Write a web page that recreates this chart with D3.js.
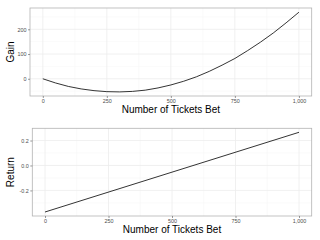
<!DOCTYPE html>
<html>
<head>
<meta charset="utf-8">
<script src="https://cdn.jsdelivr.net/npm/d3@7"></script>
<style>
    body { margin: 0; background: #fff; }
    svg { display: block; font-family: "Liberation Sans", Arial, sans-serif; }
</style>
</head>
<body>
<div id="content"></div>
<script>
// ======= data =======
var tickets = [0, 50, 100, 150, 200, 250, 300, 350, 400, 450, 500, 550, 600, 650, 700, 750, 800, 850, 900, 950, 1000];
var gain = [0, -17, -31, -41, -48, -52, -53, -51, -46, -37, -25, -10, 8, 30, 55, 82, 114, 148, 185, 226, 269];
var returnX = [0, 1000];
var returnY = [-0.373, 0.266];
var xTicks = [0, 250, 500, 750, 1000];
var gainTicks = [0, 100, 200];
var gainMinor = [-50, 50, 150, 250];
var returnTicks = [-0.2, 0.0, 0.2];
var returnMinor = [-0.3, -0.1, 0.1];
var xMinor = [125, 375, 625, 875];

// ======= formatting =======
var width = 320, height = 240;
var svg = d3.select("#content").append("svg")
    .attr("width", width)
    .attr("height", height);

function drawPanel(opt) {
    var g = svg.append("g");
    var x = d3.scaleLinear().domain([-50, 1050]).range([opt.left, opt.right]);
    var y = d3.scaleLinear().domain(opt.yDomain).range([opt.bottom, opt.top]);

    // == minor grid
    g.selectAll(".xminor").data(xMinor).enter().append("line")
        .attr("x1", d => x(d)).attr("x2", d => x(d))
        .attr("y1", opt.top).attr("y2", opt.bottom)
        .attr("stroke", "#f7f7f7").attr("stroke-width", 0.6);
    g.selectAll(".yminor").data(opt.yMinor).enter().append("line")
        .attr("x1", opt.left).attr("x2", opt.right)
        .attr("y1", d => y(d)).attr("y2", d => y(d))
        .attr("stroke", "#f7f7f7").attr("stroke-width", 0.6);

    // == major grid
    g.selectAll(".xmajor").data(xTicks).enter().append("line")
        .attr("x1", d => x(d)).attr("x2", d => x(d))
        .attr("y1", opt.top).attr("y2", opt.bottom)
        .attr("stroke", "#ececec").attr("stroke-width", 0.8);
    g.selectAll(".ymajor").data(opt.yTicks).enter().append("line")
        .attr("x1", opt.left).attr("x2", opt.right)
        .attr("y1", d => y(d)).attr("y2", d => y(d))
        .attr("stroke", "#ececec").attr("stroke-width", 0.8);

    // == data line
    var line = d3.line().x(d => x(d[0])).y(d => y(d[1]));
    g.append("path")
        .datum(d3.zip(opt.xs, opt.ys))
        .attr("d", line)
        .attr("fill", "none")
        .attr("stroke", "#000")
        .attr("stroke-width", 0.8);

    // == border
    g.append("rect")
        .attr("x", opt.left).attr("y", opt.top)
        .attr("width", opt.right - opt.left).attr("height", opt.bottom - opt.top)
        .attr("fill", "none").attr("stroke", "#b3b3b3").attr("stroke-width", 0.8);

    // == x axis
    var xAxis = g.append("g")
        .attr("transform", "translate(0," + opt.bottom + ")")
        .call(d3.axisBottom(x).tickValues(xTicks).tickSize(2).tickPadding(1.5));
    xAxis.select(".domain").remove();
    xAxis.selectAll("line").attr("stroke", "#555").attr("stroke-width", 0.6);
    xAxis.selectAll("text").attr("fill", "#4d4d4d").style("font-size", "5.4px");

    // == y axis
    var yAxis = g.append("g")
        .attr("transform", "translate(" + opt.left + ",0)")
        .call(d3.axisLeft(y).tickValues(opt.yTicks).tickSize(2).tickPadding(1.5).tickFormat(opt.fmt));
    yAxis.select(".domain").remove();
    yAxis.selectAll("line").attr("stroke", "#555").attr("stroke-width", 0.6);
    yAxis.selectAll("text").attr("fill", "#4d4d4d").style("font-size", "5.4px");

    // == titles
    g.append("text")
        .attr("x", (opt.left + opt.right) / 2)
        .attr("y", opt.bottom + 16.5)
        .attr("text-anchor", "middle")
        .style("font-size", "10px")
        .text("Number of Tickets Bet");
    g.append("text")
        .attr("transform", "translate(" + opt.titleX + "," + (opt.top + opt.bottom) / 2 + ") rotate(-90)")
        .attr("text-anchor", "middle")
        .style("font-size", "10px")
        .text(opt.yTitle);
}

drawPanel({
    left: 30, right: 311.7, top: 8, bottom: 96,
    yDomain: [-69.6, 286], yTicks: gainTicks, yMinor: gainMinor,
    xs: tickets, ys: gain, fmt: d3.format("d"),
    yTitle: "Gain", titleX: 14
});

drawPanel({
    left: 32.3, right: 311.7, top: 128.3, bottom: 216,
    yDomain: [-0.405, 0.298], yTicks: returnTicks, yMinor: returnMinor,
    xs: returnX, ys: returnY, fmt: d => d3.format(".1f")(d).replace("−", "-"),
    yTitle: "Return", titleX: 14
});
</script>
</body>
</html>
